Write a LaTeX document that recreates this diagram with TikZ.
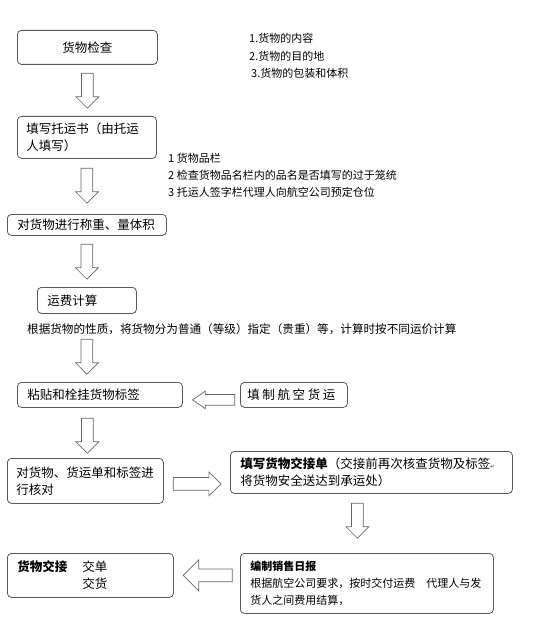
\documentclass[tikz,border=0pt]{standalone}
\usepackage{fontspec}
\setmainfont{Noto Sans CJK SC}
\newfontfamily\symfont{DejaVu Sans}
\usetikzlibrary{positioning,shapes.arrows}

\begin{document}
\begin{tikzpicture}[
    x=1bp, y=-1bp,
    box/.style={draw=black!65, line width=0.8bp, rounded corners=4bp, anchor=north west,
                inner xsep=10bp, inner ysep=0pt, align=left,
                font=\fontsize{12.5bp}{17bp}\selectfont},
    note/.style={anchor=north west, inner sep=0pt, align=left,
                 font=\fontsize{11bp}{17.5bp}\selectfont},
    blk/.style={single arrow, draw=black!60, line width=0.7bp, inner sep=5.5bp,
                single arrow head extend=5.5bp, single arrow tip angle=90,
                minimum height=35bp},
    blkdown/.style={blk, shape border rotate=270},
    blkleft/.style={blk, shape border rotate=180},
    blkright/.style={blk},
]
\useasboundingbox (0,0) rectangle (533,631);

% Left column, top to bottom.
\node[box, minimum width=140bp, minimum height=34bp, text width=120bp, align=center] (chk)   at (17,30)  {货物检查};
\node[box, minimum width=139bp, minimum height=42bp, text width=121bp, inner xsep=9bp] (wb) at (17,116) {填写托运书（由托运\\人填写）};
\node[box, minimum width=159bp, minimum height=21bp, text width=139bp]              (weigh) at (7,214)  {对货物进行称重、量体积};
\node[box, minimum width=99bp,  minimum height=26bp, text width=79bp]               (fee)   at (37,287) {运费计算};
\node[box, minimum width=165bp, minimum height=25bp, text width=145bp]              (label) at (17,382) {粘贴和栓挂货物标签};
\node[box, minimum width=156bp, minimum height=45bp, text width=138bp, inner xsep=9bp] (check) at (7,458) {对货物、货运单和标签进\\行核对};
\node[box, minimum width=166bp, minimum height=44bp, text width=146bp]              (deliver) at (7,553)
    {\makebox[65bp][l]{\textbf{货物交接}}交单\\\hspace*{65bp}交货};

% Right-hand boxes.
\node[box, minimum width=107bp, minimum height=25bp, text width=93bp, inner xsep=7bp] (awb) at (240,382) {\spaceskip=2.6bp 填 制 航 空 货 运};
\node[box, minimum width=282bp, minimum height=42bp, text width=262bp]              (handover) at (230,451)
    {\textbf{填写货物交接单}（交接前再次核查货物及标签{\symfont\tiny ↵}\\将货物安全送达到承运处）};
\node[box, minimum width=253bp, minimum height=60bp, text width=233bp,
      font=\fontsize{11bp}{17bp}\selectfont]                                        (report) at (240,553)
    {\textbf{编制销售日报}\\根据航空公司要求，按时交付运费　代理人与发\\货人之间费用结算，};

% Notes.
\node[note] (n1) at (249,33)  {1.货物的内容\\2.货物的目的地\\\hspace*{2bp}3.货物的包装和体积};
\node[note, font=\fontsize{11bp}{17bp}\selectfont] (n2) at (168,153) {1 货物品栏\\2 检查货物品名栏内的品名是否填写的过于笼统\\3 托运人签字栏代理人向航空公司预定仓位};
\node[note, font=\fontsize{11.6bp}{17bp}\selectfont] (n3) at (27,323) {根据货物的性质，将货物分为普通（等级）指定（贵重）等，计算时按不同运价计算};

% Block arrows.
\coordinate (c5) at (chk.center |- label.south);
\node[blkdown, below=8bp of chk]   (a1) {};
\node[blkdown, below=9bp of wb]    (a2) {};
\node[blkdown, below=8bp of weigh] (a3) {};
\node[blkdown, below=25bp of fee]  (a4) {};
\node[blkdown, below=10bp of c5]   (a5) {};
\node[blkdown, below=9bp of handover, xshift=-14bp] (a6) {};
\node[blkleft, left=5bp of awb, yshift=-5bp, minimum height=42bp, inner sep=5bp,
      single arrow head extend=3.5bp, single arrow tip angle=70] (h1) {};
\node[blkright, right=9bp of check, yshift=-3bp, minimum height=48bp, inner sep=6bp,
      single arrow head extend=5.5bp, single arrow tip angle=88] (h2) {};
\node[blkleft, right=9bp of deliver, minimum height=49bp, inner sep=6bp,
      single arrow head extend=9bp] (h3) {};
\end{tikzpicture}
\end{document}
